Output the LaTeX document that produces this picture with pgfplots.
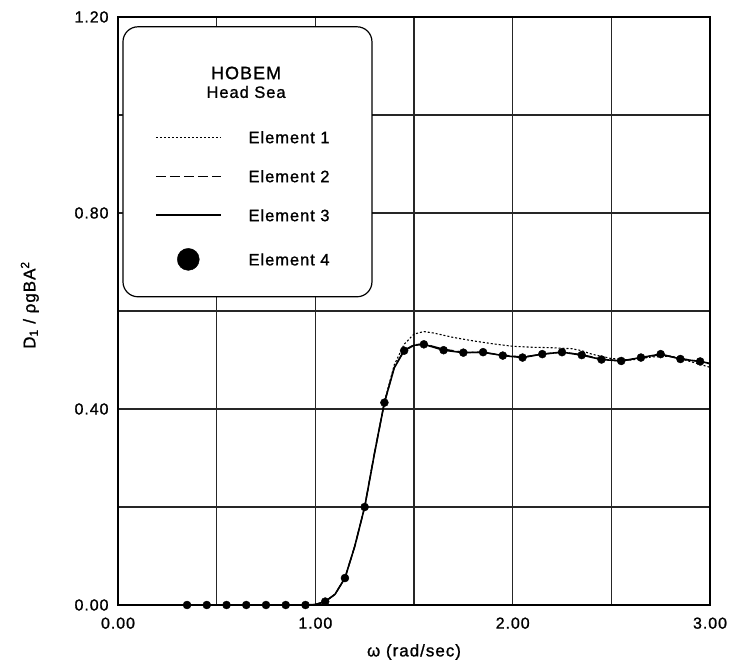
\documentclass[border=0pt]{standalone}
\usepackage{pgfplots}
\pgfplotsset{compat=1.18}
\usepackage{fontspec}
\setmainfont{Liberation Sans}[LetterSpace=6, FakeBold=1.2]
\pgfplotsset{
  lineleg/.style={legend image code/.code={\draw[##1] (0bp,0bp) -- (65bp,0bp);}},
  dotleg/.style={legend image code/.code={\fill[black] (32.5bp,0bp) circle (11bp);}},
}
\begin{document}
\begin{tikzpicture}[x=1bp,y=1bp]
\useasboundingbox (-118,-64) rectangle (616,605);
\begin{axis}[
  scale only axis, width=592bp, height=588bp,
  at={(0,0)}, anchor=south west,
  xmin=0, xmax=3, ymin=0, ymax=1.2,
  xtick={0,0.5,1,1.5,2,2.5,3},
  xticklabels={0.00,,1.00,,2.00,,3.00},
  ytick={0,0.2,0.4,0.6,0.8,1.0,1.2},
  yticklabels={0.00,,0.40,,0.80,,1.20},
  major tick length=0pt,
  /pgf/number format/assume math mode=true,
  tick label style={font=\fontsize{16}{19}\selectfont},
  xticklabel style={yshift=-9bp},
  yticklabel style={xshift=-6bp},
  grid=major,
  major grid style={black!85, line width=1.5bp},
  axis line style={black, line width=1.5bp},
  xlabel={ω (rad/sec)},
  ylabel={D\textsubscript{1} / ρgBA\textsuperscript{2}},
  every axis x label/.style={at={(axis description cs:0.5,0)}, anchor=center, yshift=-47bp,
    font=\fontsize{17}{20}\selectfont},
  every axis y label/.style={at={(axis description cs:-0.149,0.51)}, anchor=center, rotate=90,
    font=\fontsize{17}{20}\selectfont},
  legend style={draw=none, fill=none, at={(axis cs:0.1875,0.967)}, anchor=north west,
    inner sep=0pt, outer sep=0pt, row sep=27bp, column sep=27bp,
    font=\fontsize{16.5}{20}\selectfont,
    cells={anchor=west},
    nodes={inner sep=0pt, text height=12bp, text depth=0pt}},
  clip=false,
]
\draw[black, line width=1.2bp, fill=white, rounded corners=15bp]
  (axis cs:0.0253,1.18) rectangle (axis cs:1.287,0.629);
\node[font=\fontsize{18}{21}\selectfont] at (axis cs:0.649,1.0857) {HOBEM};
\node[font=\fontsize{16.5}{20}\selectfont] at (axis cs:0.649,1.0469) {Head Sea};

% Element 1 (dotted)
\addplot[black, line width=1.1bp, dash pattern=on 2bp off 2bp, lineleg]
  coordinates {
  (0.35,0) (0.95,0) (1.00,0.001) (1.05,0.007) (1.10,0.022) (1.15,0.055) (1.20,0.12)
  (1.25,0.20) (1.30,0.31) (1.35,0.415) (1.40,0.49) (1.45,0.532) (1.50,0.553)
  (1.55,0.558) (1.60,0.555) (1.70,0.546) (1.80,0.539) (1.90,0.533) (2.00,0.528)
  (2.10,0.526) (2.20,0.525) (2.30,0.523) (2.35,0.519) (2.40,0.512) (2.50,0.503)
  (2.60,0.500) (2.70,0.506) (2.80,0.508) (2.90,0.497) (3.00,0.485)
  };
\addlegendentry{Element 1}
% Element 2 (dashed)
\addplot[black, line width=1.3bp, dash pattern=on 10bp off 4bp, lineleg]
  coordinates {
  (0.35,0) (0.95,0) (1.00,0.001) (1.05,0.007) (1.10,0.022) (1.15,0.055) (1.20,0.12)
  (1.25,0.20) (1.30,0.31) (1.35,0.413) (1.40,0.485) (1.45,0.520) (1.50,0.531)
  (1.55,0.533) (1.65,0.522) (1.75,0.516) (1.85,0.515) (1.95,0.510) (2.05,0.506)
  (2.15,0.512) (2.25,0.516) (2.35,0.511) (2.45,0.502) (2.55,0.498) (2.65,0.504)
  (2.75,0.511) (2.85,0.503) (2.95,0.497) (3.00,0.492)
  };
\addlegendentry{Element 2}
% Element 3 (solid)
\addplot[black, line width=1.6bp, lineleg]
  coordinates {
  (0.35,0) (0.95,0) (1.00,0.001) (1.05,0.007) (1.10,0.022) (1.15,0.055) (1.20,0.12)
  (1.25,0.20) (1.30,0.31) (1.35,0.413) (1.40,0.484) (1.45,0.519) (1.50,0.530)
  (1.55,0.532) (1.65,0.520) (1.75,0.515) (1.85,0.516) (1.95,0.509) (2.05,0.505)
  (2.15,0.512) (2.25,0.516) (2.35,0.510) (2.45,0.501) (2.55,0.498) (2.65,0.505)
  (2.75,0.512) (2.85,0.502) (2.95,0.497) (3.00,0.493)
  };
\addlegendentry{Element 3}
% Element 4 (markers)
\addplot[only marks, mark=*, mark size=4bp, black, dotleg]
  coordinates {
  (0.35,0) (0.45,0) (0.55,0) (0.65,0) (0.75,0) (0.85,0) (0.95,0)
  (1.05,0.007) (1.15,0.055) (1.25,0.20) (1.35,0.413) (1.45,0.519) (1.55,0.532)
  (1.65,0.520) (1.75,0.515) (1.85,0.516) (1.95,0.509) (2.05,0.505) (2.15,0.512)
  (2.25,0.516) (2.35,0.510) (2.45,0.501) (2.55,0.498) (2.65,0.505) (2.75,0.512)
  (2.85,0.502) (2.95,0.497)
  };
\addlegendentry{Element 4}
\end{axis}
\end{tikzpicture}
\end{document}
